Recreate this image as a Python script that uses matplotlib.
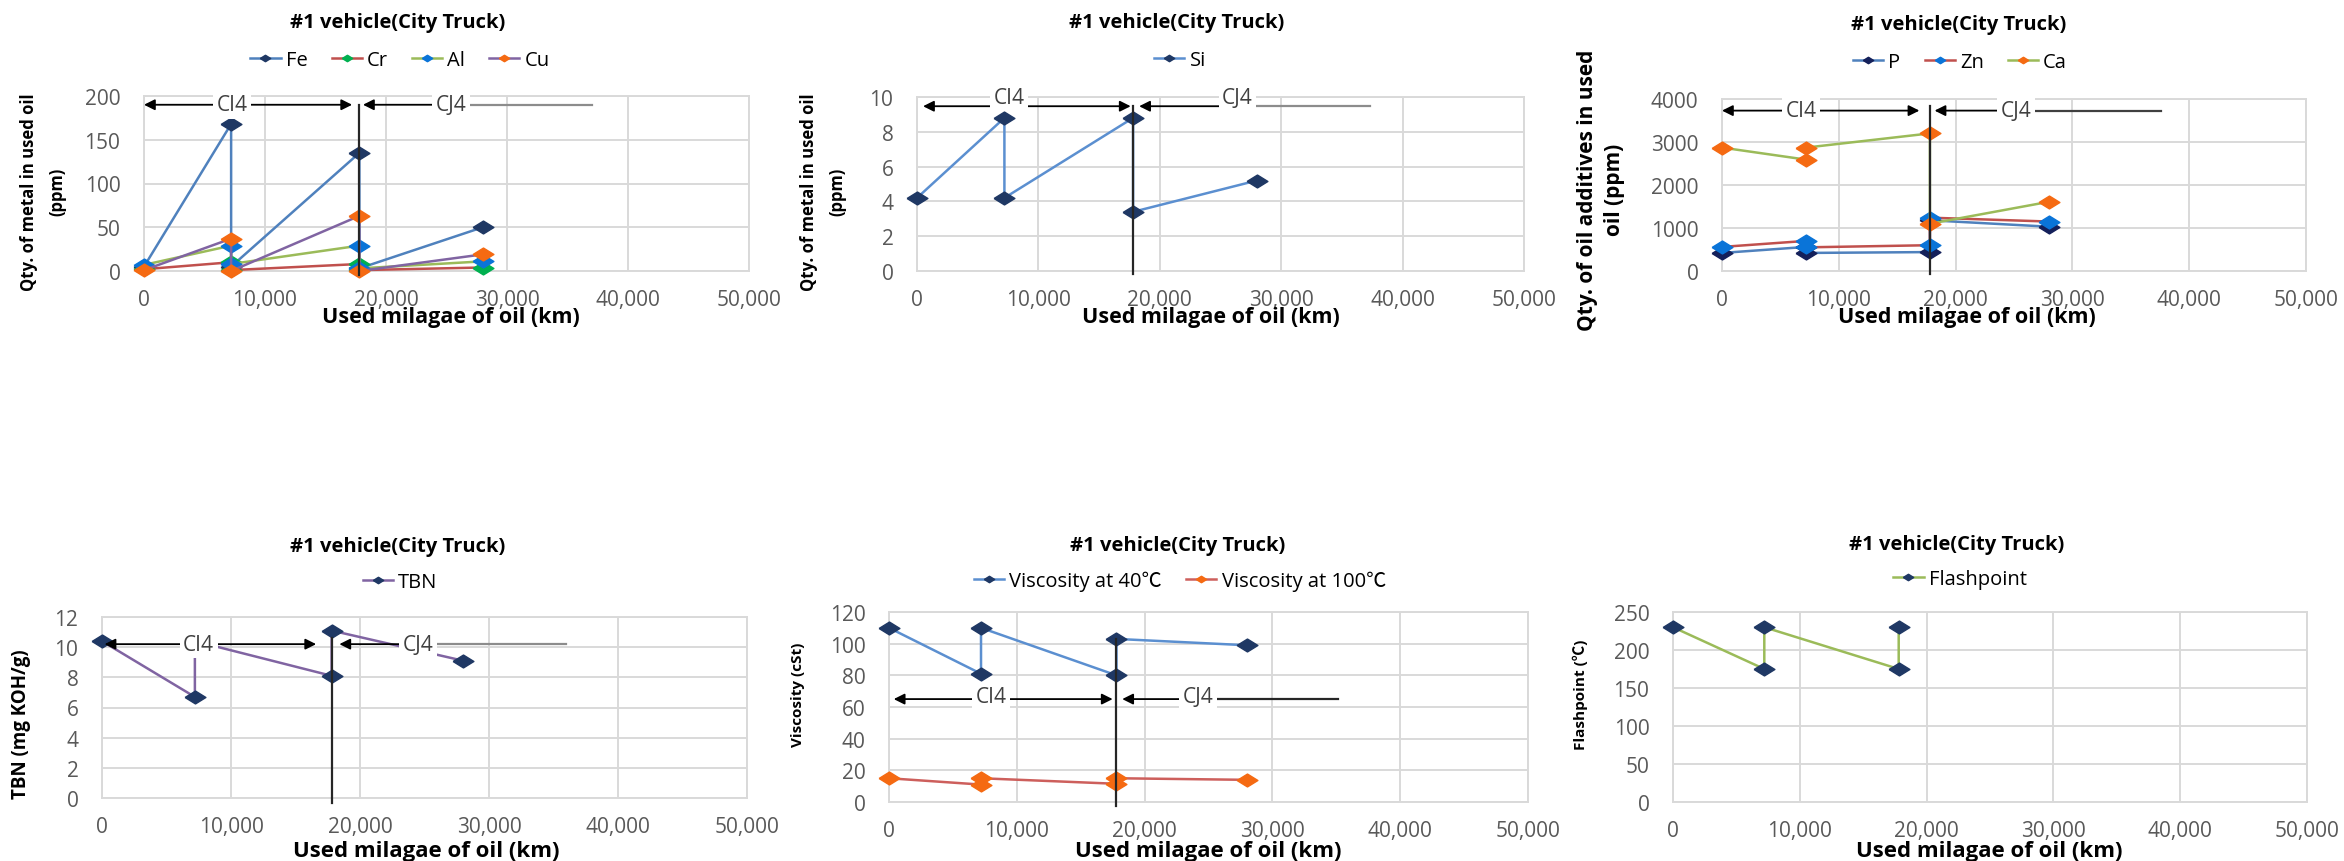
import numpy as np
import matplotlib.pyplot as plt
from matplotlib.ticker import FuncFormatter, MultipleLocator

plt.rcParams['font.family'] = ['Open Sans', 'Noto Sans CJK KR', 'DejaVu Sans']

W, H = 2344, 862

# mileage of each oil sample (km); an oil change gives two samples at one mileage
km = [0, 7200, 7200, 17800, 17800, 28000]
km_flash = [0, 7200, 7200, 17800, 17800]

# wear metals (ppm)
fe = [5, 168, 5, 135, 3, 50]
cr = [2, 10, 1, 8, 1, 4]
al = [7, 29, 8, 29, 3, 11]
cu = [1, 37, 0, 63, 0, 19]
si = [4.2, 8.8, 4.2, 8.8, 3.4, 5.2]

# additives (ppm)
p = [420, 560, 420, 440, 1180, 1030]
zn = [560, 700, 550, 600, 1240, 1150]
ca = [2870, 2590, 2870, 3200, 1100, 1610]

tbn = [10.4, 6.7, 10.4, 8.1, 11.1, 9.1]
visc40 = [110, 81, 110, 80, 103, 99]
visc100 = [15, 11, 15, 11.5, 15, 14]
flash = [230, 175, 230, 175, 230]

title = '#1 vehicle(City Truck)'
xlab = 'Used milagae of oil (km)'

NAVY = '#1f3864'
BLUE = '#4f81bd'
RED = '#c0504d'
GREEN = '#9bbb59'
PURPLE = '#8064a2'
GMARK = '#00b050'
BMARK = '#0a74d8'
ORANGE = '#f56a12'

DIAMOND = [(-1, 0), (0, 0.62), (1, 0), (0, -0.62), (-1, 0)]

fig = plt.figure(figsize=(W / 100, H / 100), dpi=100)


def fx(v):
    return v / W


def fy(v):
    return 1 - v / H


def make_ax(left, top, right, bottom, ymax, ystep):
    ax = fig.add_axes([fx(left), fy(bottom), (right - left) / W, (bottom - top) / H])
    ax.set_xlim(0, 50000)
    ax.set_ylim(0, ymax)
    ax.xaxis.set_major_locator(MultipleLocator(10000))
    ax.yaxis.set_major_locator(MultipleLocator(ystep))
    ax.xaxis.set_major_formatter(FuncFormatter(lambda v, pos: f'{v:,.0f}'))
    ax.grid(True, color='#d9d9d9', lw=1.4)
    ax.set_axisbelow(True)
    for s in ax.spines.values():
        s.set_color('#d9d9d9')
        s.set_linewidth(1.4)
    ax.tick_params(length=0, labelsize=15, labelcolor='#595959')
    ax.tick_params(axis='y', pad=17)
    ax.tick_params(axis='x', pad=13)
    return ax


def series(ax, x, y, line, mark, label):
    ax.plot(x, y, color=line, lw=1.8, marker=DIAMOND, ms=15, mfc=mark, mec=mark,
            label=label, zorder=3, clip_on=False)


def head_txt(cx, cy, lx, ly, handles_ax):
    fig.text(fx(cx), fy(cy), title, ha='center', va='center', fontsize=14.5,
             fontweight='bold')
    handles_ax.legend(loc='center', bbox_to_anchor=(fx(lx), fy(ly)),
                      bbox_transform=fig.transFigure, ncol=4, frameon=False,
                      fontsize=14.5, handlelength=1.5, handletextpad=0.25,
                      columnspacing=1.2, markerscale=0.5)


def x_title(cx, cy, size):
    fig.text(fx(cx), fy(cy), xlab, ha='center', va='center', fontsize=size,
             fontweight='bold')


def y_title(cx, cy, s, size, ls=1.2):
    fig.text(fx(cx), fy(cy), s, ha='center', va='center', rotation=90,
             fontsize=size, fontweight='bold', multialignment='center',
             linespacing=ls)


def oil_marks(ax, y, ci_x, ci_l, ci_r, cj_head, cj_x, cj_end, vtop, vbot,
              ty=None, cj_col='#8c8c8c'):
    ty = y if ty is None else ty
    ap = dict(color='black', lw=1.3, shrinkA=0, shrinkB=0, mutation_scale=16)
    ax.annotate('', xy=(ci_l, y), xytext=(ci_r, y), annotation_clip=False,
                arrowprops=dict(arrowstyle='<|-|>', **ap), zorder=4)
    ax.annotate('', xy=(cj_head, y), xytext=(cj_x, y), annotation_clip=False,
                arrowprops=dict(arrowstyle='-|>', **ap), zorder=4)
    ax.plot([cj_x, cj_end], [y, y], color=cj_col, lw=1.6, zorder=4)
    ax.plot([17800, 17800], [vbot, vtop], color='#262626', lw=1.6, zorder=4,
            clip_on=False)
    box = dict(fc='white', ec='none', pad=2.5)
    ax.text(ci_x, ty, 'CI4', ha='center', va='center', fontsize=15,
            color='#404040', bbox=box, zorder=6)
    ax.text(cj_x, ty, 'CJ4', ha='center', va='center', fontsize=15,
            color='#404040', bbox=box, zorder=6)


# ---- panel 1: wear metals
ax1 = make_ax(144, 97, 749, 272, 200, 50)
series(ax1, km, fe, BLUE, NAVY, 'Fe')
series(ax1, km, cr, RED, GMARK, 'Cr')
series(ax1, km, al, GREEN, BMARK, 'Al')
series(ax1, km, cu, PURPLE, ORANGE, 'Cu')
oil_marks(ax1, 190, 7300, 0, 17200, 18100, 25400, 37000, 190, -4)
head_txt(398, 23, 400, 61, ax1)
x_title(451, 318, 15.5)
y_title(43, 192, 'Qty. of metal in used oil\n(ppm)', 12, 1.7)

# ---- panel 2: silicon
ax2 = make_ax(917, 98, 1524, 272, 10, 2)
series(ax2, km, si, '#5b8fd0', NAVY, 'Si')
oil_marks(ax2, 9.47, 7600, 500, 17600, 18300, 26400, 37300, 9.5, -0.2, ty=10.0)
head_txt(1177, 23, 1180, 61, ax2)
x_title(1211, 318, 15.5)
y_title(823, 192, 'Qty. of metal in used oil\n(ppm)', 12, 1.7)

# ---- panel 3: additives
ax3 = make_ax(1722, 100, 2306, 272, 4000, 1000)
series(ax3, km, p, BLUE, '#14205a', 'P')
series(ax3, km, zn, RED, BMARK, 'Zn')
series(ax3, km, ca, GREEN, ORANGE, 'Ca')
oil_marks(ax3, 3730, 6800, 0, 16900, 18200, 25200, 37600, 3840, -70,
          cj_col='#404040')
head_txt(1959, 25, 1960, 63, ax3)
x_title(1967, 318, 15.5)
y_title(1601, 190, 'Qty. of oil additives in used\noil (ppm)', 15, 1.35)

# ---- panel 4: TBN
ax4 = make_ax(102, 618, 747, 799, 12, 2)
series(ax4, km, tbn, PURPLE, NAVY, 'TBN')
oil_marks(ax4, 10.2, 7500, 200, 16600, 18400, 24500, 36000, 10.6, -0.3)
head_txt(398, 547, 400, 583, ax4)
x_title(426, 852, 16)
y_title(21, 724, 'TBN (mg KOH/g)', 13.5)

# ---- panel 5: viscosity
ax5 = make_ax(889, 613, 1528, 803, 120, 20)
series(ax5, km, visc40, '#5b8fd0', NAVY, 'Viscosity at 40℃')
series(ax5, km, visc100, '#cd5f5c', ORANGE, 'Viscosity at 100℃')
oil_marks(ax5, 65, 8000, 370, 17500, 18250, 24200, 35100, 103, -2.5, ty=66.5,
          cj_col='#262626')
head_txt(1178, 546, 1180, 582, ax5)
x_title(1208, 852, 16)
y_title(798, 695, 'Viscosity (cSt)', 11)

# ---- panel 6: flashpoint
ax6 = make_ax(1673, 613, 2307, 803, 250, 50)
series(ax6, km_flash, flash, GREEN, NAVY, 'Flashpoint')
head_txt(1957, 545, 1960, 580, ax6)
x_title(1989, 852, 16)
y_title(1580, 695, 'Flashpoint (℃)', 11)

fig.savefig('out.png', dpi=100, facecolor='white')
